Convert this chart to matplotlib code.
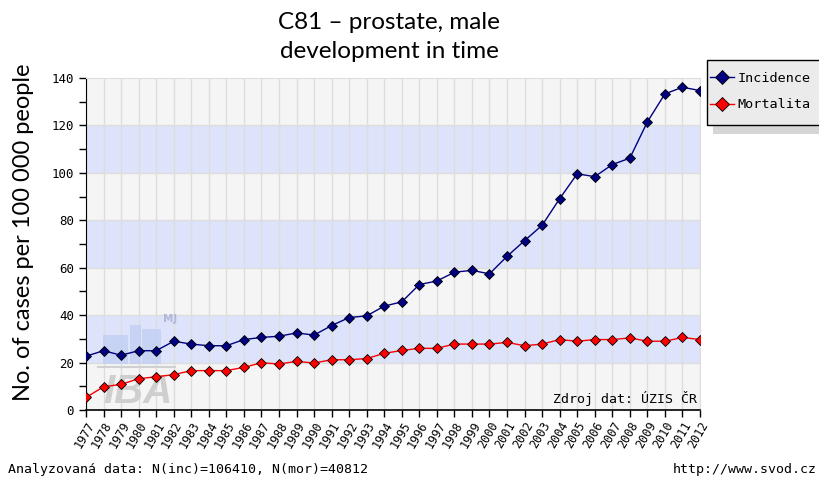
import matplotlib
matplotlib.use("Agg")
import matplotlib.pyplot as plt
from matplotlib.patches import Rectangle
from matplotlib.ticker import MultipleLocator

# Data
years = list(range(1977, 2013))
incidence = [22.7, 25.0, 23.1, 25.0, 25.0, 29.0, 27.8, 27.1, 27.1, 29.7,
             30.6, 31.1, 32.5, 31.6, 35.6, 39.0, 39.7, 43.8, 45.6, 52.9,
             54.4, 58.1, 58.9, 57.4, 64.8, 71.4, 77.9, 89.1, 99.6, 98.4,
             103.5, 106.2, 121.5, 133.3, 136.1, 134.7]
mortality = [5.3, 9.8, 10.8, 13.2, 14.0, 14.9, 16.6, 16.6, 16.6, 18.0,
             19.9, 19.4, 20.5, 19.8, 21.2, 21.2, 21.7, 23.9, 25.1, 26.0,
             26.0, 27.8, 27.8, 27.8, 28.5, 27.1, 27.8, 29.7, 29.0, 29.7,
             29.7, 30.4, 29.0, 29.0, 30.6, 29.7]
series_names = ["Incidence", "Mortalita"]
title = "C81 – prostate, male\ndevelopment in time"
ylabel = "No. of cases per 100 000 people"
footer_left = "Analyzovaná data: N(inc)=106410, N(mor)=40812"
footer_right = "http://www.svod.cz"
source = "Zdroj dat: ÚZIS ČR"

W, H = 819, 483
fig = plt.figure(figsize=(W / 100, H / 100), dpi=100)
ax = fig.add_axes([86 / W, 1 - 410 / H, (700 - 86) / W, (410 - 78) / H])

mono = "DejaVu Sans Mono"
sans = "Lato"

# alternating horizontal bands
for i, lo in enumerate(range(0, 140, 20)):
    ax.axhspan(lo, lo + 20, color="#dce3fa" if i % 2 else "#f5f5f5", zorder=0, lw=0)
for y in range(20, 140, 20):
    ax.axhline(y, color="#dddddd", lw=1, zorder=1)
for x in years:
    ax.axvline(x, color="#dddddd", lw=1, zorder=1)

# faint IBA logo watermark
for x0, y0, w, h in [(0.028, 0.14, 0.04, 0.085), (0.072, 0.14, 0.018, 0.115),
                     (0.092, 0.14, 0.03, 0.105)]:
    ax.add_patch(Rectangle((x0, y0), w, h, transform=ax.transAxes,
                           color="#bfcdf3", alpha=0.7, lw=0, zorder=1.5))
ax.plot([0.02, 0.145], [0.13, 0.13], transform=ax.transAxes, color="#d0d0d0",
        lw=1.5, zorder=1.5)
ax.text(0.028, 0.022, "IBA", transform=ax.transAxes, fontsize=29,
        fontweight="bold", style="italic", color="#cfcfcf", zorder=1.5,
        family="Liberation Sans", va="baseline")
ax.text(0.125, 0.265, "MJ", transform=ax.transAxes, fontsize=7.5,
        fontweight="bold", color="#b0b8d8", zorder=1.5)

ax.plot(years, incidence, color="#000080", lw=1, marker="D", ms=4.8,
        mfc="#000080", mec="black", mew=0.6, label=series_names[0], zorder=3)
ax.plot(years, mortality, color="#ff0000", lw=1, marker="D", ms=4.8,
        mfc="#ff0000", mec="black", mew=0.6, label=series_names[1], zorder=3)

ax.set_xlim(1977, 2012)
ax.set_ylim(0, 140)
ax.yaxis.set_major_locator(MultipleLocator(20))
ax.yaxis.set_minor_locator(MultipleLocator(10))
ax.set_xticks(years)
ax.set_xticklabels([str(y) for y in years], rotation=60, ha="right",
                   rotation_mode="anchor", family=mono, fontsize=8.5)
for lab in ax.get_yticklabels():
    lab.set_family(mono)
    lab.set_fontsize(9)
ax.tick_params(axis="both", direction="out", length=5, width=1, colors="black")
ax.tick_params(axis="y", which="minor", length=5, width=1)
ax.tick_params(axis="x", pad=2)

for s in ["top", "right"]:
    ax.spines[s].set_color("#dddddd")
ax.spines["left"].set_color("black")
ax.spines["bottom"].set_color("black")
ax.spines["bottom"].set_linewidth(1.2)

ax.text(0.995, 0.012, source, transform=ax.transAxes, ha="right", va="bottom",
        family=mono, fontsize=9.5, zorder=4)

fig.text(24 / W, 1 - 232 / H, ylabel, rotation=90, ha="center", va="center",
         fontsize=17, family=sans)

fig.text(389 / W, 1 - 37 / H, title, ha="center", va="center", fontsize=17.5,
         family=sans, linespacing=1.45)

# legend box (runs off the right edge like the original) with drop shadow
bx, by, bw, bh = 707, 60, 130, 65
fig.patches.append(Rectangle(((bx + 6) / W, 1 - (by + bh + 9) / H), bw / W, bh / H,
                             transform=fig.transFigure, facecolor="#d6d6d6",
                             lw=0, zorder=-2))
fig.patches.append(Rectangle((bx / W, 1 - (by + bh) / H), bw / W, bh / H,
                             transform=fig.transFigure, facecolor="#ebebeb",
                             edgecolor="black", lw=1, zorder=-1))

leg = ax.legend(loc="upper left", bbox_to_anchor=(710 / W, 1 - 72 / H),
                bbox_transform=fig.transFigure, prop={"family": mono, "size": 9.7},
                frameon=False, borderaxespad=0, borderpad=0, markerscale=1.4,
                handlelength=1.75, handletextpad=0.3, labelspacing=1.0)
leg.set_zorder(5)

fig.text(8 / W, 1 - 470 / H, footer_left, ha="left", va="center",
         family=mono, fontsize=9.5)
fig.text(817 / W, 1 - 470 / H, footer_right, ha="right", va="center",
         family=mono, fontsize=9.5)

fig.savefig("out.png", dpi=100)
